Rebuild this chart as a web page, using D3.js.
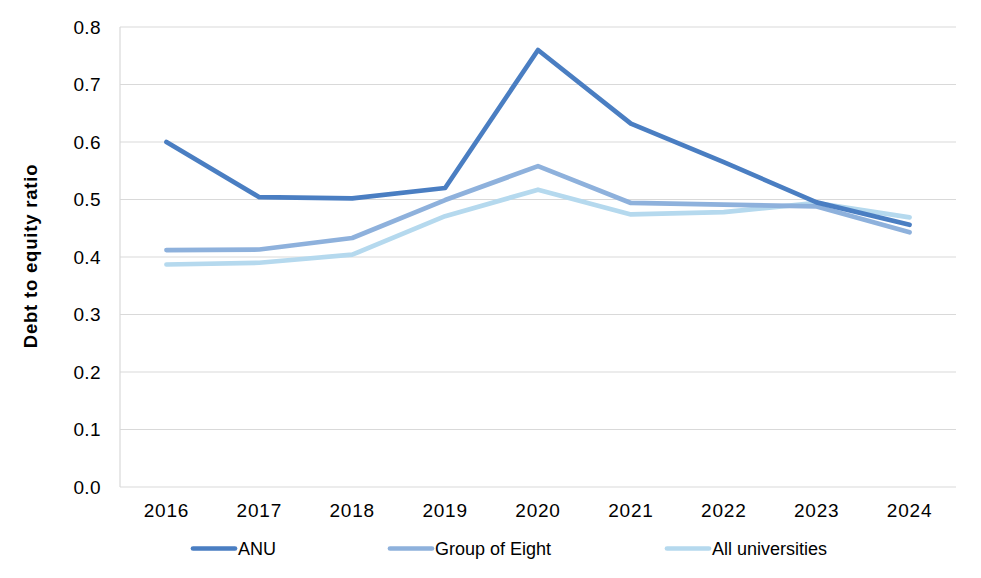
<!DOCTYPE html>
<html><head><meta charset="utf-8">
<script src="https://cdn.jsdelivr.net/npm/d3@7"></script>
<style>body{margin:0;background:#fff;font-family:"Liberation Sans",Arial,sans-serif;}</style>
</head><body><svg id="c" width="981" height="578"></svg>
<script>
const years = ["2016","2017","2018","2019","2020","2021","2022","2023","2024"];
const anu = [0.600,0.504,0.502,0.520,0.760,0.632,0.565,0.495,0.456];
const go8 = [0.412,0.413,0.433,0.499,0.558,0.494,0.491,0.488,0.443];
const allUni = [0.387,0.390,0.404,0.471,0.517,0.474,0.478,0.494,0.469];
const yTicks = [0,0.1,0.2,0.3,0.4,0.5,0.6,0.7,0.8];
const seriesNames = ["ANU","Group of Eight","All universities"];
const colors = ["#4a7ec2","#8eb1dc","#b5d9ee"];

const svg = d3.select("#c");
const L=120, R=956, T=27, B=487;
const x = d3.scaleBand().domain(years).range([L,R]);
const y = d3.scaleLinear().domain([0,0.8]).range([B,T]);

svg.append("g").selectAll("line").data(yTicks.slice(1)).join("line")
  .attr("x1",L).attr("x2",R).attr("y1",d=>y(d)).attr("y2",d=>y(d))
  .attr("stroke","#d9d9d9").attr("stroke-width",1.2);
svg.append("line").attr("x1",L).attr("x2",R).attr("y1",B).attr("y2",B).attr("stroke","#d9d9d9").attr("stroke-width",1.2);
svg.append("line").attr("x1",L).attr("x2",L).attr("y1",T).attr("y2",B).attr("stroke","#d9d9d9").attr("stroke-width",1.2);

const fnt = "Liberation Sans, Arial";
const yAxis = d3.axisLeft(y).tickValues(yTicks).tickFormat(d3.format(".1f")).tickSize(0).tickPadding(19);
svg.append("g").attr("transform",`translate(${L},0)`).call(yAxis)
  .call(g=>g.select(".domain").remove())
  .selectAll("text").attr("font-size",19).attr("letter-spacing",0.4).attr("font-family",fnt).attr("fill","#000");
const xAxis = d3.axisBottom(x).tickSize(0).tickPadding(17);
svg.append("g").attr("transform",`translate(0,${B})`).call(xAxis)
  .call(g=>g.select(".domain").remove())
  .selectAll("text").attr("font-size",19).attr("letter-spacing",0.8).attr("font-family",fnt).attr("fill","#000");

svg.append("text").attr("transform",`translate(36.5,256) rotate(-90)`)
  .attr("text-anchor","middle").attr("font-size",18.5).attr("letter-spacing",0.8).attr("font-weight","bold").attr("fill","#000")
  .attr("font-family",fnt).text("Debt to equity ratio");

const line = d3.line().x((d,i)=>x(years[i])+x.bandwidth()/2).y(d=>y(d));
[allUni,go8,anu].forEach((s,k)=>{
  const idx=[2,1,0][k];
  svg.append("path").datum(s).attr("d",line).attr("fill","none")
    .attr("stroke",colors[idx]).attr("stroke-width",4.7).attr("stroke-linejoin","round").attr("stroke-linecap","round");
});

const legX=[193,390,667];
const leg = svg.append("g");
seriesNames.forEach((n,i)=>{
  leg.append("line").attr("x1",legX[i]).attr("x2",legX[i]+42).attr("y1",548.5).attr("y2",548.5)
    .attr("stroke",colors[i]).attr("stroke-width",4.7).attr("stroke-linecap","round");
  leg.append("text").attr("x",legX[i]+45).attr("y",555).attr("font-size",18).attr("fill","#000")
    .attr("font-family",fnt).text(n);
});
</script></body></html>
